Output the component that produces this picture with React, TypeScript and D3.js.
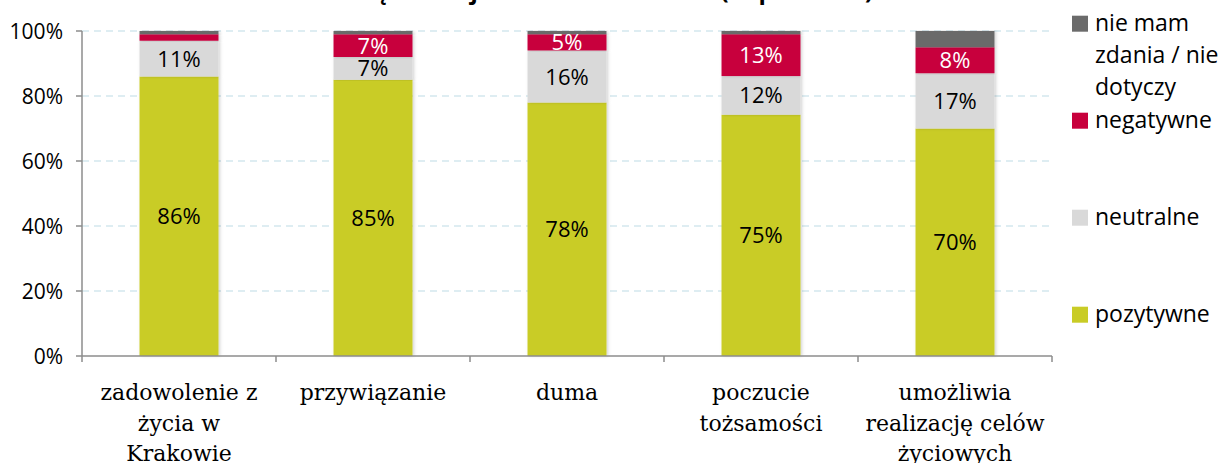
import React from "react";
import * as d3 from "d3";

const categories = ["zadowolenie z\nżycia w\nKrakowie", "przywiązanie", "duma", "poczucie\ntożsamości", "umożliwia\nrealizację celów\nżyciowych"];
const pozytywne = [86, 85, 78, 75, 70];
const neutralne = [11, 7, 16, 12, 17];
const negatywne = [2, 7, 5, 13, 8];
const nieMam = [1, 1, 1, 1, 5];
const seriesNames = ["pozytywne", "neutralne", "negatywne", "nie mam zdania / nie dotyczy"];
const legendLines = [["pozytywne"], ["neutralne"], ["negatywne"], ["nie mam", "zdania / nie", "dotyczy"]];
const yTicks = [0, 0.2, 0.4, 0.6, 0.8, 1.0];
const title = "Więź emocjonalna z Krakowem (odpowiedzi)";

const colors = ["#c9cc26", "#d9d9d9", "#c8003c", "#6b6b6b"];
const labelColors = ["#000", "#000", "#fff", "#fff"];

const W = 1221, H = 463;
const M = { left: 82, right: 1052, top: 31, bottom: 356 };
const SANS = "'Open Sans', sans-serif";
const SERIF = "'DejaVu Serif', serif";

export default function App() {
  const rows = categories.map((c, i) => ({
    cat: c,
    pozytywne: pozytywne[i],
    neutralne: neutralne[i],
    negatywne: negatywne[i],
    nieMam: nieMam[i],
  }));
  const keys = ["pozytywne", "neutralne", "negatywne", "nieMam"];
  const stack = d3.stack<any>().keys(keys).offset(d3.stackOffsetExpand);
  const series = stack(rows);

  const x = d3.scaleBand<string>().domain(categories).range([M.left, M.right]).paddingInner(0.593).paddingOuter(0.2965);
  const y = d3.scaleLinear().domain([0, 1]).range([M.bottom, M.top]);
  const step = x.step();
  const boundaries = d3.range(categories.length + 1).map((i) => M.left + i * step);

  return (
    <svg width={W} height={H} style={{ position: "absolute", left: 0, top: 0, background: "#fff" }}>
      <defs>
        <filter id="sh" x="-20%" y="-5%" width="140%" height="110%">
          <feDropShadow dx="1.5" dy="0" stdDeviation="1.5" floodColor="#000" floodOpacity="0.18" />
        </filter>
      </defs>
      <rect width={W} height={H} fill="#fff" />
      <text x={608} y={-1.5} textAnchor="middle" fontFamily={SANS} fontWeight="bold" fontSize={24} fill="#000">{title}</text>
      {yTicks.filter((t) => t > 0).map((t) => (
        <line key={t} x1={M.left} x2={M.right} y1={y(t)} y2={y(t)} stroke="#d3e7ee" strokeWidth={1.3} strokeDasharray="7,5" />
      ))}
      {series.map((s, si) => (
        <g key={si} fill={colors[si]}>
          {s.map((d, i) => (
            <rect key={i} x={x(categories[i])} y={y(d[1])} width={x.bandwidth()} height={y(d[0]) - y(d[1])} filter="url(#sh)" />
          ))}
        </g>
      ))}
      {series.map((s, si) => (
        <g key={"l" + si}>
          {s.map((d, i) => {
            const v = (rows[i] as any)[keys[si]];
            if (si === 3 || v < 5) return null;
            return (
              <text key={i} x={x(categories[i])! + x.bandwidth() / 2} y={(y(d[0]) + y(d[1])) / 2 + 8} textAnchor="middle" fontFamily={SANS} fontSize={22} fill={labelColors[si]}>
                {v}%
              </text>
            );
          })}
        </g>
      ))}
      {/* y axis */}
      <line x1={M.left} x2={M.left} y1={M.top} y2={M.bottom} stroke="#8c8c8c" strokeWidth={1.5} />
      {yTicks.map((t) => (
        <g key={t}>
          <line x1={M.left - 6} x2={M.left} y1={y(t)} y2={y(t)} stroke="#8c8c8c" strokeWidth={1.5} />
          <text x={63} y={y(t) + 7.5} textAnchor="end" fontFamily={SANS} fontSize={21} fill="#000">{d3.format(".0%")(t)}</text>
        </g>
      ))}
      {/* x axis */}
      <line x1={M.left} x2={M.right} y1={M.bottom} y2={M.bottom} stroke="#8c8c8c" strokeWidth={1.5} />
      {boundaries.map((b, i) => (
        <line key={i} x1={b} x2={b} y1={M.bottom} y2={M.bottom + 6} stroke="#8c8c8c" strokeWidth={1.5} />
      ))}
      {categories.map((c) => (
        <text key={c} textAnchor="middle" fontFamily={SERIF} fontSize={22} fill="#000">
          {c.split("\n").map((ln, li) => (
            <tspan key={li} x={x(c)! + x.bandwidth() / 2} y={400 + li * 30.5}>{ln}</tspan>
          ))}
        </text>
      ))}
      {/* legend */}
      {[3, 2, 1, 0].map((si, k) => (
        <g key={si}>
          <rect x={1072} y={30.7 + k * 97 - 15} width={16} height={16} fill={colors[si]} />
          <text fontFamily={SANS} fontSize={23} fill="#000">
            {legendLines[si].map((ln, li) => (
              <tspan key={li} x={1095} y={30.7 + k * 97 + li * 32.3}>{ln}</tspan>
            ))}
          </text>
        </g>
      ))}
    </svg>
  );
}
